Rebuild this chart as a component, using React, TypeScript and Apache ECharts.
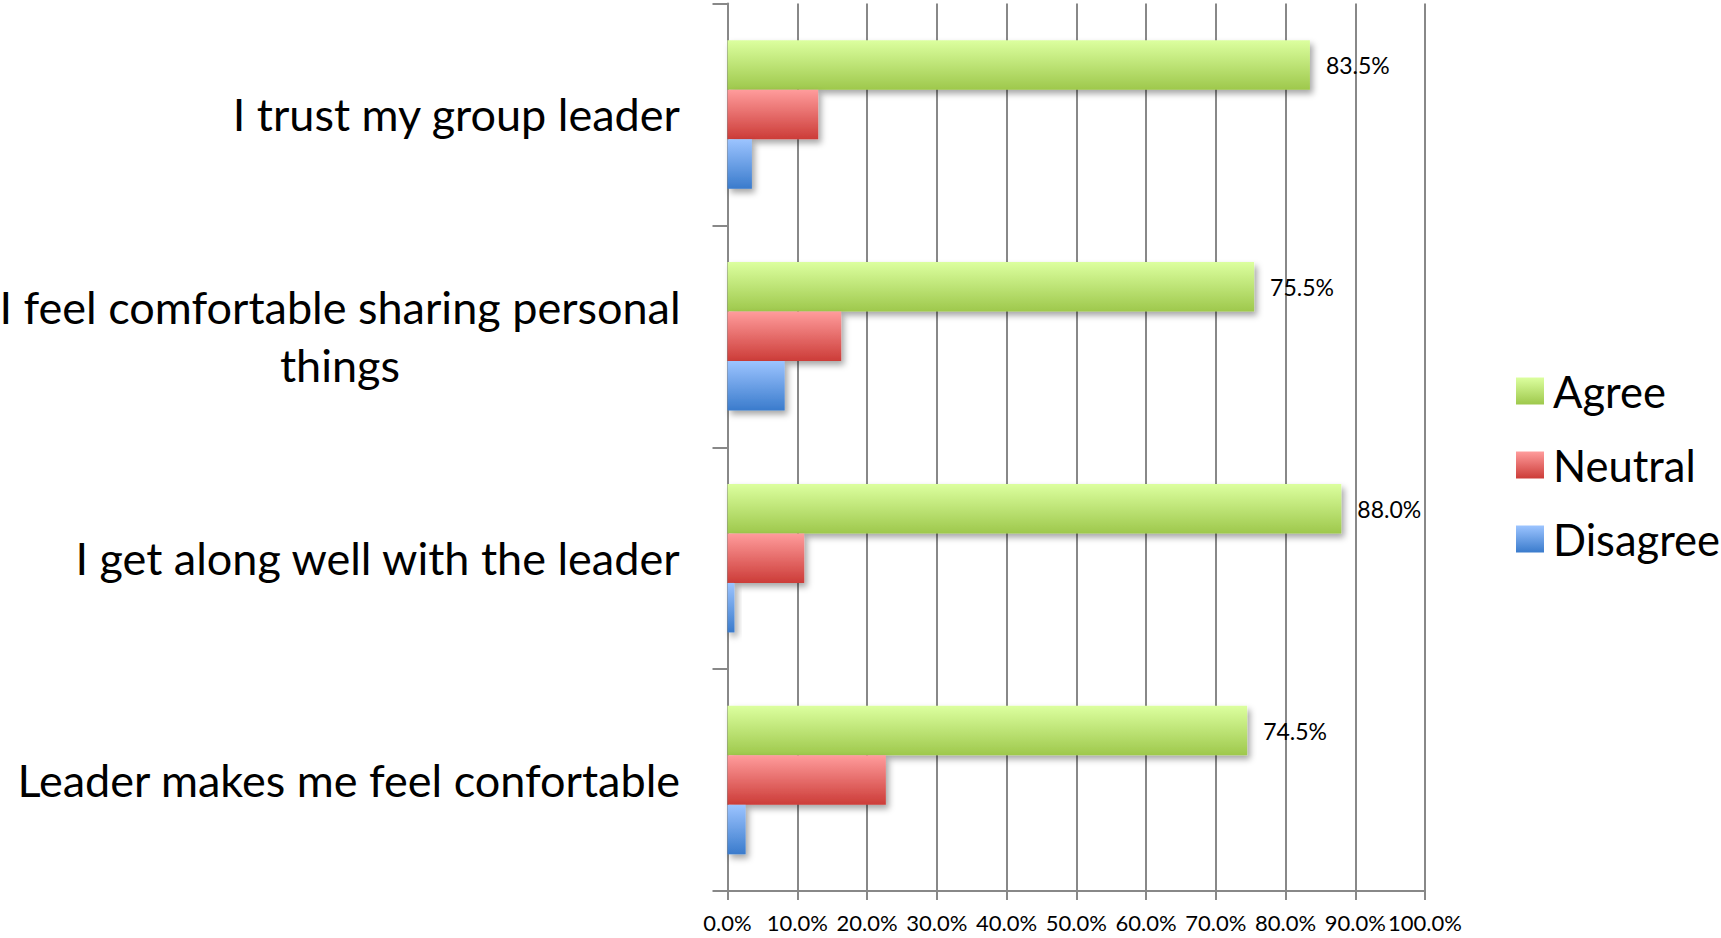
import React, { useEffect, useRef } from "react";
import * as echarts from "echarts";

const categories = [
  "I trust my group leader",
  "I feel comfortable sharing personal\nthings",
  "I get along well with the leader",
  "Leader makes me feel confortable",
];
const seriesNames = ["Agree", "Neutral", "Disagree"];
const agree = [83.5, 75.5, 88.0, 74.5];
const neutral = [13.0, 16.3, 11.0, 22.7];
const disagree = [3.5, 8.2, 1.0, 2.6];
const xTicks = { min: 0, max: 100, interval: 10 };

const FONT = "Lato";

function grad(top: string, bottom: string) {
  return new echarts.graphic.LinearGradient(0, 0, 0, 1, [
    { offset: 0, color: top },
    { offset: 1, color: bottom },
  ]);
}

export default function App() {
  const ref = useRef<HTMLDivElement>(null);
  useEffect(() => {
    if (!ref.current) return;
    const chart = echarts.init(ref.current, undefined, { renderer: "svg" });
    const shadow = {
      shadowBlur: 6,
      shadowOffsetX: 3,
      shadowOffsetY: 4,
      shadowColor: "rgba(0,0,0,0.35)",
    };
    const colors = [
      grad("#dcff9f", "#9ec84c"),
      grad("#ff9c9c", "#cc3c38"),
      grad("#9cc4ff", "#3a7bcc"),
    ];
    const datas = [agree, neutral, disagree];
    chart.setOption({
      animation: false,
      textStyle: { fontFamily: FONT },
      grid: {
        left: 727.5,
        right: 296,
        top: 3.5,
        bottom: 47,
        containLabel: false,
        outerBoundsMode: "none",
      },
      legend: {
        orient: "vertical",
        left: 1511,
        top: 362,
        itemWidth: 28,
        itemHeight: 27,
        itemGap: 26,
        icon: "rect",
        data: seriesNames,
        textStyle: {
          fontFamily: FONT,
          fontSize: 43.5,
          color: "#000",
          lineHeight: 48,
          padding: [0, 0, 0, 4],
        },
      },
      xAxis: {
        type: "value",
        min: xTicks.min,
        max: xTicks.max,
        interval: xTicks.interval,
        axisLine: { show: true, lineStyle: { color: "#888", width: 2 } },
        axisTick: { show: true, length: 9, lineStyle: { color: "#888", width: 2 } },
        splitLine: { show: true, lineStyle: { color: "#888", width: 2 } },
        axisLabel: {
          color: "#000",
          fontFamily: FONT,
          fontSize: 22,
          margin: 20,
          hideOverlap: false,
          formatter: (v: number) => v.toFixed(1) + "%",
        },
      },
      yAxis: {
        type: "category",
        data: categories,
        inverse: true,
        axisLine: { show: true, lineStyle: { color: "#888", width: 2 } },
        axisTick: { show: true, length: 15, lineStyle: { color: "#888", width: 2 } },
        axisLabel: {
          color: "#000",
          fontFamily: FONT,
          fontSize: 45,
          margin: 47,
          align: "right",
          formatter: (v: string) =>
            v
              .split("\n")
              .map((l) => `{c|${l}}`)
              .join("\n"),
          rich: {
            c: {
              fontFamily: FONT,
              fontSize: 45,
              lineHeight: 58,
              color: "#000",
              align: "center",
            },
          },
        },
      },
      series: seriesNames.map((name, i) => ({
        name,
        type: "bar",
        data: datas[i],
        barWidth: 49.5,
        barGap: "0%",
        itemStyle: { color: colors[i], ...shadow },
        label:
          i === 0
            ? {
                show: true,
                position: "right",
                distance: 16,
                color: "#000",
                fontFamily: FONT,
                fontSize: 23,
                formatter: (p: any) => Number(p.value).toFixed(1) + "%",
              }
            : { show: false },
      })),
    });
    return () => chart.dispose();
  }, []);
  return (
    <div
      ref={ref}
      style={{ position: "fixed", left: 0, top: 0, width: 1721, height: 938, background: "#fff" }}
    />
  );
}
